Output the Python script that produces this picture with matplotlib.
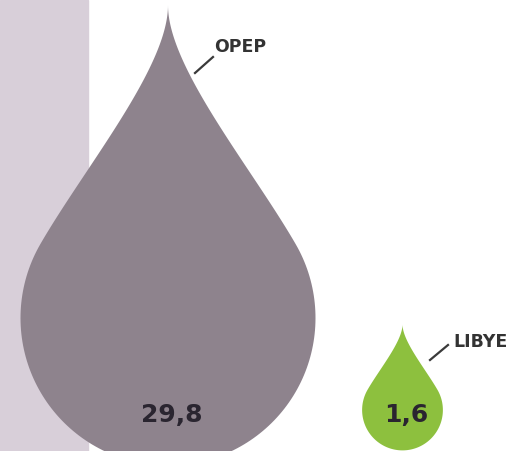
import matplotlib
matplotlib.use("Agg")
import matplotlib.pyplot as plt
from matplotlib.patches import Polygon, Rectangle
import numpy as np

# data
labels = ["OPEP", "LIBYE"]
values = [29.8, 1.6]
value_texts = ["29,8", "1,6"]
colors = ["#8e838d", "#8dc03e"]


def drop_outline(cx, cy, r, tip=2.12, n=80):
    # teardrop: bezier from the tip down to a tangent point on the circle,
    # then the lower arc of the circle, then the mirrored bezier back up
    th = np.radians(30)
    p0 = np.array([0.0, tip])
    p1 = np.array([0.0, 1.7])
    p3 = np.array([np.cos(th), np.sin(th)])
    p2 = p3 + 0.6 * np.array([-np.sin(th), np.cos(th)])
    t = np.linspace(0, 1, n)[:, None]
    bez = ((1 - t) ** 3) * p0 + 3 * ((1 - t) ** 2) * t * p1 \
        + 3 * (1 - t) * t ** 2 * p2 + t ** 3 * p3
    a = np.linspace(th, -np.pi - th, 2 * n)
    arc = np.column_stack([np.cos(a), np.sin(a)])
    left = bez[::-1] * np.array([-1, 1])
    pts = np.vstack([bez, arc, left])
    return np.column_stack([cx + r * pts[:, 0], cy - r * pts[:, 1]])


fig = plt.figure(figsize=(5.2, 4.51), dpi=100)
ax = fig.add_axes([0, 0, 1, 1])
ax.set_xlim(0, 520)
ax.set_ylim(451, 0)
ax.axis("off")

# pale band on the left
ax.add_patch(Rectangle((0, 0), 88, 451, color="#d8cfd9", zorder=0))

# drop size from value
radii = [147.5 * (v / values[0]) ** 0.443 for v in values]
centers = [(168, 318), (402.5, 410)]
leaders = [((195, 73), (213, 57)), ((430, 360), (448, 345))]
label_pos = [(214, 47), (453, 342)]

for i in range(len(values)):
    cx, cy = centers[i]
    ax.add_patch(Polygon(drop_outline(cx, cy, radii[i]), closed=True,
                         facecolor=colors[i], edgecolor="none", zorder=2))
    ax.text(cx + 4, 415, value_texts[i], ha="center", va="center",
            fontsize=18, fontweight="bold", color="#2a2530", zorder=3)
    (x0, y0), (x1, y1) = leaders[i]
    ax.plot([x0, x1], [y0, y1], color="#3a3a3a", lw=1.6, zorder=3)
    ax.text(label_pos[i][0], label_pos[i][1], labels[i], ha="left",
            va="center", fontsize=12.5, fontweight="bold", color="#333333",
            zorder=3)

fig.savefig("out.png", dpi=100)
